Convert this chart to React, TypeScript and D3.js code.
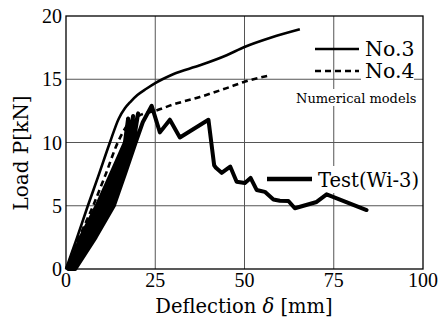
import React from 'react';
import * as d3 from 'd3';

type P = [number, number];

const xTicks = [0, 25, 50, 75, 100];
const yTicks = [0, 5, 10, 15, 20];

const no3: P[] = [
  [0, 0], [3, 2.4], [6, 4.9], [9, 7.3], [12.3, 10], [14.8, 11.9], [16.5, 12.7], [18, 13.2],
  [20, 13.75], [22.5, 14.25], [25, 14.7], [27, 15.0], [30, 15.4], [37.5, 16.1], [45, 16.9],
  [50, 17.55], [57.5, 18.3], [65.5, 18.95],
];

const no4: P[] = [
  [0, 0], [4, 2.7], [7.6, 5], [11, 7.4], [14.5, 10], [17, 11.3], [19, 11.9], [21, 12.2],
  [25, 12.5], [30, 13.0], [37.5, 13.6], [45, 14.3], [50, 14.8], [57, 15.3],
];

const test: P[] = [
  // cycle 1
  [0.6, 0], [4.1, 2.5], [8.6, 5], [12.6, 7.5], [16.5, 10], [17.4, 11.9],
  [17.0, 10], [13.3, 7.5], [9.4, 5], [4.8, 2.5], [1.0, 0],
  // cycle 2
  [1.3, 0], [5.5, 2.5], [10.2, 5], [14.0, 7.5], [17.4, 10], [18.8, 12.1],
  [17.9, 10], [14.7, 7.5], [11.0, 5], [6.2, 2.5], [1.7, 0],
  // cycle 3
  [2.0, 0], [6.9, 2.5], [11.8, 5], [15.3, 7.5], [18.4, 10], [20.2, 12.3],
  [18.9, 10], [15.9, 7.5], [12.6, 5], [7.6, 2.5], [2.3, 0],
  // cycle 4 to peak
  [2.6, 0], [8.3, 2.5], [13.4, 5], [16.5, 7.5], [19.5, 10], [21.5, 11.6], [24, 12.9],
  // post-peak
  [26.3, 10.8], [29.1, 11.8], [31.9, 10.4], [39.9, 11.8], [41.5, 8.2], [42, 8.0], [43.6, 7.6],
  [46, 8.1], [47.8, 6.9], [50.1, 6.8], [51.7, 7.2], [53.4, 6.25], [55.7, 6.1], [58.1, 5.5],
  [59.9, 5.4], [62.3, 5.38], [64.1, 4.8], [70.2, 5.3], [73, 5.9], [84.2, 4.66],
];

const serif = "'DejaVu Serif', serif";
const numFont = "'Liberation Serif', serif";

export default function App() {
  const W = 443, H = 321;
  const x = d3.scaleLinear().domain([0, 100]).range([66, 423]);
  const y = d3.scaleLinear().domain([0, 20]).range([269, 16]);
  const line = d3.line<P>().x(d => x(d[0])).y(d => y(d[1]));
  const smooth = d3.line<P>().x(d => x(d[0])).y(d => y(d[1])).curve(d3.curveMonotoneX);

  return (
    <svg width={W} height={H} style={{ position: 'absolute', left: 0, top: 0, background: '#fff' }}>
      <rect x={0} y={0} width={W} height={H} fill="#fff" />
      {/* grid */}
      {xTicks.slice(1, -1).map(t => (
        <line key={'gx' + t} x1={x(t)} x2={x(t)} y1={y(20)} y2={y(0)} stroke="#555" strokeWidth={1} />
      ))}
      {yTicks.slice(1, -1).map(t => (
        <line key={'gy' + t} x1={x(0)} x2={x(100)} y1={y(t)} y2={y(t)} stroke="#555" strokeWidth={1} />
      ))}
      {/* white boxes behind legend texts */}
      <rect x={361} y={61} width={53} height={20} fill="#fff" />
      <rect x={294} y={89} width={123} height={17} fill="#fff" />
      <rect x={316} y={166} width={106} height={27} fill="#fff" />
      {/* frame */}
      <rect x={x(0)} y={y(20)} width={x(100) - x(0)} height={y(0) - y(20)} fill="none" stroke="#000" strokeWidth={1.3} />

      {/* series */}
      <path d={line(test) || ''} fill="none" stroke="#000" strokeWidth={4} strokeLinejoin="round" strokeLinecap="round" />
      <path d={smooth(no3) || ''} fill="none" stroke="#000" strokeWidth={2.6} strokeLinejoin="round" />
      <path d={smooth(no4) || ''} fill="none" stroke="#000" strokeWidth={2.6} strokeDasharray="6 4" />

      {/* ticks */}
      {xTicks.map(t => (
        <text key={'tx' + t} x={x(t)} y={287} fontFamily={numFont} fontSize={20} textAnchor="middle" fill="#000">{t}</text>
      ))}
      {yTicks.map(t => (
        <text key={'ty' + t} x={62} y={y(t) + 7} fontFamily={numFont} fontSize={20} textAnchor="end" fill="#000">{t}</text>
      ))}

      {/* axis titles */}
      <text x={244} y={313} fontFamily={serif} fontSize={19.5} textAnchor="middle" fill="#000">
        Deflection <tspan fontStyle="italic">δ</tspan> [mm]
      </text>
      <text transform="translate(28,153) rotate(-90)" fontFamily={serif} fontSize={20} textAnchor="middle" fill="#000">Load P[kN]</text>

      {/* legend */}
      <line x1={315} x2={359} y1={49} y2={49} stroke="#000" strokeWidth={2.6} />
      <text x={365} y={56} fontFamily={serif} fontSize={20.5} fill="#000">No.3</text>
      <line x1={315} x2={359} y1={71} y2={71} stroke="#000" strokeWidth={2.6} strokeDasharray="6 4" />
      <text x={365} y={78} fontFamily={serif} fontSize={20.5} fill="#000">No.4</text>
      <text x={296} y={103} fontFamily={serif} fontSize={13} fill="#000">Numerical models</text>
      <line x1={267} x2={312} y1={179} y2={179} stroke="#000" strokeWidth={4.5} />
      <text x={318} y={187} fontFamily={serif} fontSize={19.5} fill="#000">Test(Wi-3)</text>
    </svg>
  );
}
